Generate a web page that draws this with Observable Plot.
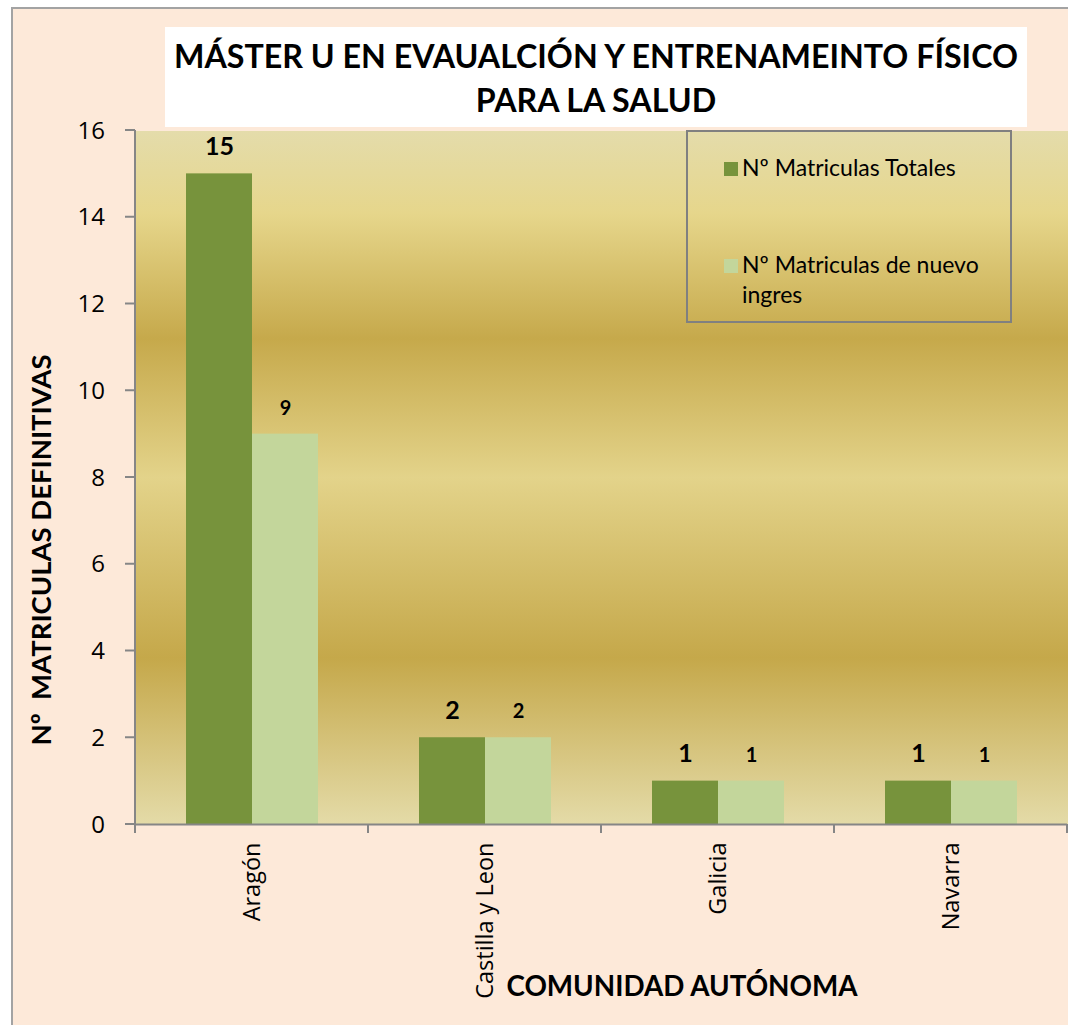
<!DOCTYPE html>
<html><head><meta charset="utf-8">
<script src="https://cdn.jsdelivr.net/npm/d3@7"></script>
<script src="https://cdn.jsdelivr.net/npm/@observablehq/plot@0.6"></script>
<style>
body{margin:0;background:#fff;}
#wrap{position:relative;width:1068px;height:1025px;overflow:hidden;}
#outer{position:absolute;left:11px;top:7px;width:1100px;height:1100px;background:#fde9d9;border:2px solid #a3a3a3;box-sizing:border-box;}
#chart{position:absolute;left:0;top:0;}
#title{position:absolute;left:165px;top:27px;width:862px;height:100px;background:#fff;font-family:Lato,sans-serif;font-weight:bold;font-size:32.2px;text-align:center;line-height:44px;padding-top:7px;box-sizing:border-box;color:#000;white-space:nowrap;}
#ytitle{position:absolute;left:40px;top:550px;transform:translate(-50%,-50%) rotate(-90deg);white-space:pre;font-family:Lato,sans-serif;font-weight:bold;font-size:27.5px;color:#000;}
#xtitle{position:absolute;left:682px;top:985px;transform:translate(-50%,-50%);white-space:pre;font-family:Lato,sans-serif;font-weight:bold;font-size:27.8px;color:#000;}
#legend{position:absolute;left:686px;top:130px;width:326px;height:193px;border:2px solid #808080;box-sizing:border-box;font-family:Lato,sans-serif;font-size:23px;color:#000;}
.li{position:absolute;left:36px;display:flex;align-items:flex-start;}
.sw{width:14px;height:14px;margin-top:6px;margin-right:4px;flex:none;}
.lt{width:262px;line-height:30px;margin-top:-4px;}
</style></head>
<body>
<div id="wrap">
  <div id="outer"></div>
  <div id="chart"></div>
  <div id="title"></div>
  <div id="ytitle"></div>
  <div id="xtitle"></div>
  <div id="legend"></div>
</div>
<script>
const titleLines = ["MÁSTER U EN EVAUALCIÓN Y ENTRENAMEINTO FÍSICO", "PARA LA SALUD"];
const regions = ["Aragón", "Castilla y Leon", "Galicia", "Navarra"];
const seriesNames = ["Nº Matriculas Totales", "Nº Matriculas de nuevo ingres"];
const totales = [15, 2, 1, 1];
const nuevoIngreso = [9, 2, 1, 1];
const yTicks = [0, 2, 4, 6, 8, 10, 12, 14, 16];
const seriesColors = ["#77933c", "#c3d69b"];
const yTitle = "Nº  MATRICULAS DEFINITIVAS";
const xTitle = "COMUNIDAD AUTÓNOMA";

const data = regions.flatMap((r, i) => [
  {region: r, series: seriesNames[0], value: totales[i]},
  {region: r, series: seriesNames[1], value: nuevoIngreso[i]}
]);

const defs = () => {
  const d = d3.create("svg:defs");
  const g = d.append("linearGradient").attr("id", "bgGrad").attr("x1", 0).attr("y1", 0).attr("x2", 0).attr("y2", 1);
  [[0, "#e4dcab"], [0.12, "#e6d68b"], [0.3, "#c6a94b"], [0.5, "#e3d38a"], [0.76, "#c5a84a"], [1, "#e4dba8"]]
    .forEach(([o, c]) => g.append("stop").attr("offset", o).attr("stop-color", c));
  return d.node();
};

const plot = Plot.plot({
  width: 1068,
  height: 1025,
  marginLeft: 133,
  marginRight: 0,
  marginTop: 130,
  marginBottom: 201,
  style: {background: "transparent", overflow: "visible", fontFamily: "Open Sans"},
  fx: {domain: regions, padding: 0, axis: null},
  x: {domain: seriesNames, paddingInner: 0, paddingOuter: 0.746, axis: null},
  y: {domain: [0, 16], axis: null},
  color: {domain: seriesNames, range: seriesColors},
  marks: [
    defs,
    Plot.frame({fill: "url(#bgGrad)", stroke: "none", insetLeft: -1, insetRight: -1, shapeRendering: "crispEdges"}),
    Plot.barY(data, {fx: "region", x: "series", y: "value", fill: "series"}),
    Plot.ruleY([0], {stroke: "#868686", strokeWidth: 2}),
    Plot.text(data.filter(d => d.series === seriesNames[0]), {
      fx: "region", x: "series", y: "value", text: d => String(d.value),
      dy: -27, fontSize: 25, fontWeight: "bold", fontFamily: "Lato", fill: "#000"
    }),
    Plot.text(data.filter(d => d.series === seriesNames[1]), {
      fx: "region", x: "series", y: "value", text: d => String(d.value),
      dy: -26, fontSize: 20, fontWeight: "bold", fontFamily: "Lato", fill: "#000"
    }),
    Plot.axisFx({anchor: "bottom", tickRotate: -90, tickSize: 0, tickPadding: 18, fontSize: 23.5, fontFamily: "Open Sans", label: null, fill: "#000"})
  ]
});

document.getElementById("chart").appendChild(plot);

// y axis and category boundary ticks via the plot's own scales
const svg = d3.select(plot);
const fx = plot.scale("fx");
const y = plot.scale("y");
const x0 = fx.apply(regions[0]);
const axisG = svg.append("g").attr("stroke", "#868686").attr("stroke-width", 2);
axisG.append("line").attr("x1", x0).attr("x2", x0).attr("y1", y.apply(16)).attr("y2", y.apply(0));
yTicks.forEach(t => {
  axisG.append("line").attr("x1", x0 - 10).attr("x2", x0).attr("y1", y.apply(t)).attr("y2", y.apply(t));
});
const txtG = svg.append("g").attr("font-family", "Open Sans").attr("font-size", 24).attr("text-anchor", "end").attr("fill", "#000");
yTicks.forEach(t => {
  txtG.append("text").attr("x", x0 - 30).attr("y", y.apply(t)).attr("dy", "0.36em").text(t);
});
const bounds = regions.map(r => fx.apply(r)).concat([fx.apply(regions[regions.length - 1]) + fx.bandwidth]);
bounds.forEach(b => {
  axisG.append("line").attr("x1", b).attr("x2", b).attr("y1", y.apply(0)).attr("y2", y.apply(0) + 9);
});

const titleEl = document.getElementById("title");
titleLines.forEach((t, i) => {
  if (i) titleEl.appendChild(document.createElement("br"));
  titleEl.appendChild(document.createTextNode(t));
});
document.getElementById("ytitle").textContent = yTitle;
document.getElementById("xtitle").textContent = xTitle;

const legend = document.getElementById("legend");
const legendTops = [24, 121];
seriesNames.forEach((s, i) => {
  const item = document.createElement("div");
  item.className = "li";
  item.style.top = legendTops[i] + "px";
  item.innerHTML = `<div class="sw" style="background:${seriesColors[i]}"></div><div class="lt"></div>`;
  item.querySelector(".lt").textContent = s;
  legend.appendChild(item);
});
</script>
</body></html>
